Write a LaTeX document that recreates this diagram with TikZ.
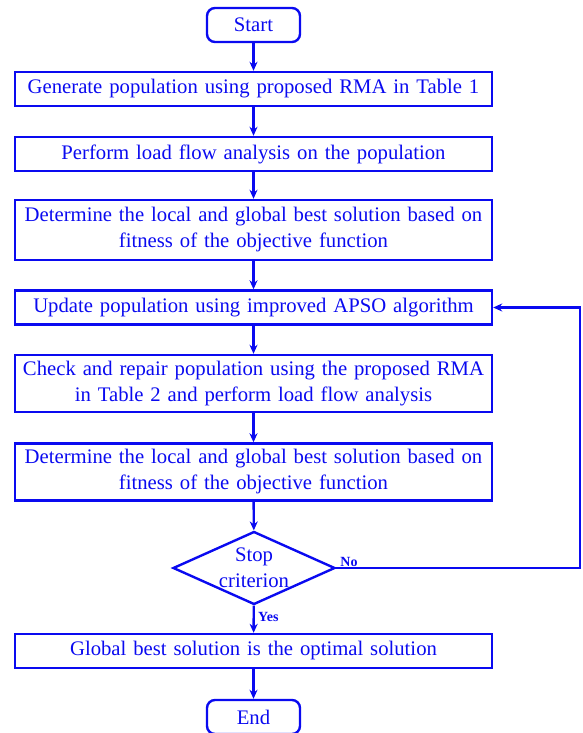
\documentclass[tikz,border=0pt]{standalone}
\usepackage{fontspec}
\setmainfont{Liberation Serif}
\usetikzlibrary{shapes.geometric,arrows.meta}

\definecolor{flowblue}{RGB}{10,10,240}

\tikzset{
  stepbox/.style={draw=flowblue,line width=2.4pt,text=flowblue,font=\fontsize{20.7}{26}\selectfont,
    minimum width=477pt,text width=473pt,align=center,inner sep=1pt},
  termbox/.style={draw=flowblue,line width=2.4pt,text=flowblue,font=\fontsize{20.7}{26}\selectfont,
    rounded corners=8pt,minimum width=93pt,minimum height=34pt},
  decide/.style={draw=flowblue,line width=2.4pt,text=flowblue,font=\fontsize{20.7}{26}\selectfont,
    diamond,aspect=2.2,minimum width=162pt,minimum height=73pt,inner sep=0pt,align=center},
  flow/.style={draw=flowblue,line width=2.4pt,-{Stealth[length=9pt,width=8pt]}},
  tag/.style={text=flowblue,font=\fontsize{14}{16}\selectfont\bfseries}
}

\begin{document}
\begin{tikzpicture}[x=1pt,y=-1pt]
  \useasboundingbox (0,0) rectangle (582,733);
  \node[termbox] (start) at (253.5,25) {Start};
  \node[stepbox,minimum height=34pt] (gen) at (253.5,89) {Generate population using proposed RMA in Table 1};
  \node[stepbox,minimum height=34pt] (lf) at (253.5,154) {Perform load flow analysis on the population};
  \node[stepbox,minimum height=60pt] (best1) at (253.5,230) {Determine the local and global best solution based on\\fitness of the objective function};
  \node[stepbox,minimum height=34pt] (upd) at (253.5,307.5) {Update population using improved APSO algorithm};
  \node[stepbox,minimum height=57pt] (rep) at (253.5,383.5) {Check and repair population using the proposed RMA\\in Table 2 and perform load flow analysis};
  \node[stepbox,minimum height=57pt] (best2) at (253.5,472) {Determine the local and global best solution based on\\fitness of the objective function};
  \node[decide] (stop) at (254,568) {Stop\\criterion};
  \node[stepbox,minimum height=34pt] (glob) at (253.5,651) {Global best solution is the optimal solution};
  \node[termbox] (end) at (253.5,717) {End};
  \coordinate (turn) at (580,568);

  % main line
  \draw[flow] (start) -- (gen);
  \draw[flow] (gen) -- (lf);
  \draw[flow] (lf) -- (best1);
  \draw[flow] (best1) -- (upd);
  \draw[flow] (upd) -- (rep);
  \draw[flow] (rep) -- (best2);
  \draw[flow] (best2) -- (stop);
  \draw[flow] (stop) -- node[tag,right,pos=0.4] {Yes} (glob);
  \draw[flow] (glob) -- (end);
  % loop back
  \draw[flow] (stop.east) -- (turn) |- (upd.east);
  \node[tag,above right,inner sep=1pt] (no) at ([xshift=3pt]stop.east) {No};
\end{tikzpicture}
\end{document}
